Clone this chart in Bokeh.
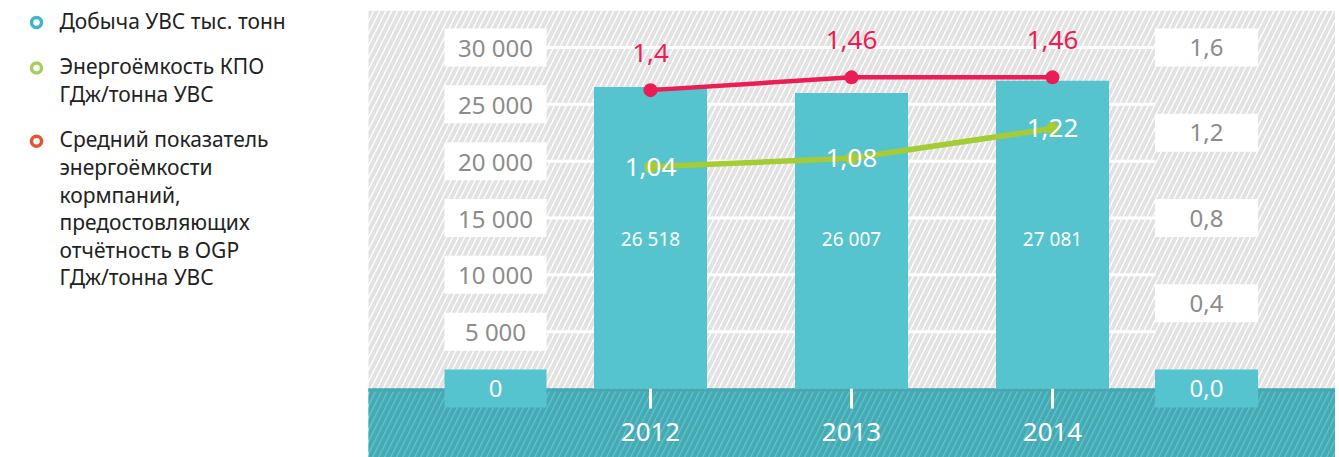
from bokeh.plotting import figure
from bokeh.models import Range1d
from bokeh.embed import file_html
from bokeh.resources import INLINE
from bokeh.core.properties import value

# ---------------- data ----------------
years = ["2012", "2013", "2014"]
production = [26518, 26007, 27081]
production_labels = ["26 518", "26 007", "27 081"]
kpo_intensity = [1.04, 1.08, 1.22]
kpo_labels = ["1,04", "1,08", "1,22"]
ogp_intensity = [1.40, 1.46, 1.46]
ogp_labels = ["1,4", "1,46", "1,46"]
left_ticks = [0, 5000, 10000, 15000, 20000, 25000, 30000]
left_tick_labels = ["0", "5 000", "10 000", "15 000", "20 000", "25 000", "30 000"]
right_ticks = [0.0, 0.4, 0.8, 1.2, 1.6]
right_tick_labels = ["0,0", "0,4", "0,8", "1,2", "1,6"]
legend_lines = [
    ["Добыча УВС тыс. тонн"],
    ["Энергоёмкость КПО", "ГДж/тонна УВС"],
    ["Средний показатель", "энергоёмкости", "кормпаний,", "предостовляющих",
     "отчётность в OGP", "ГДж/тонна УВС"],
]
legend_colors = ["#3DB6C7", "#A6CF5E", "#E4572E"]

# ---------------- styles ----------------
TEAL = "#56C4CF"
RED = "#EC1C54"
GREEN = "#A5CC35"
GRAY_TXT = "#8C8C8C"
FONT = "Noto Sans"

W, H = 1335, 457
FRAME_TOP = 10
frame_h = H - FRAME_TOP
ZERO_Y = 388.0                     # page y of value 0
zero_px = ZERO_Y - FRAME_TOP
scale_left = 30000 / 341.0         # value per pixel (left axis)
scale_right = 1.6 / 341.0          # value per pixel (right axis)
y_start = -(frame_h - zero_px) * scale_left
y_end = zero_px * scale_left
r_start = -(frame_h - zero_px) * scale_right
r_end = zero_px * scale_right

cat_px = 201.0
FIRST_CAT_X = 650.0                # page x of first category


def px_x(px):
    return 1 + (px - FIRST_CAT_X) / cat_px


def px_y(py):
    return (ZERO_Y - py) * scale_left


x_start = px_x(0)
x_end = px_x(W)
plot_left = px_x(368)
xs = [i + 1 for i in range(len(years))]
left_box_x = px_x(495)
right_box_x = px_x(1206)

p = figure(width=W, height=H, x_range=Range1d(x_start, x_end),
           y_range=Range1d(y_start, y_end), output_backend="svg",
           toolbar_location=None, min_border_left=0, min_border_right=0,
           min_border_bottom=0, min_border_top=FRAME_TOP)
p.extra_y_ranges = {"right": Range1d(r_start, r_end)}
p.axis.visible = False
p.grid.visible = False
p.outline_line_color = None
p.background_fill_color = "white"
p.border_fill_color = "white"

# hatched backgrounds
p.quad(left=[plot_left], right=[x_end], bottom=[0], top=[y_end],
       fill_color="white", line_color=None, hatch_pattern="/",
       hatch_color="#E2E2E2", hatch_scale=12, hatch_weight=4)
p.quad(left=[plot_left], right=[x_end], bottom=[y_start], top=[0],
       fill_color=TEAL, line_color=None, hatch_pattern="/",
       hatch_color="#49A9B3", hatch_scale=12, hatch_weight=4)
p.quad(left=[plot_left], right=[x_end], bottom=[-3 * scale_left], top=[0],
       fill_color="#48A7B1", line_color=None)

# grid lines
gx0 = px_x(546)
gx1 = px_x(1155)
p.segment(x0=[gx0] * (len(left_ticks) - 1), x1=[gx1] * (len(left_ticks) - 1),
          y0=left_ticks[1:], y1=left_ticks[1:], line_color="white", line_width=3)

# year ticks
p.segment(x0=xs, x1=xs, y0=[0] * 3, y1=[-20 * scale_left] * 3,
          line_color="white", line_width=3)
p.text(x=xs, y=[-43 * scale_left] * 3, text=years, text_color="white",
       text_font=value(FONT), text_font_size="26px", text_align="center",
       text_baseline="middle")

# bars
p.vbar(x=xs, top=production, bottom=0, width=113 / cat_px,
       fill_color=TEAL, line_color=None)
p.text(x=xs, y=[150 * scale_left] * 3, text=production_labels, text_color="white",
       text_font=value(FONT), text_font_size="19px", text_align="center",
       text_baseline="middle")

# left axis boxes
n_l = len(left_ticks)
box_fill_l = [TEAL if v == 0 else "white" for v in left_ticks]
box_txt_l = ["white" if v == 0 else GRAY_TXT for v in left_ticks]
p.rect(x=[left_box_x] * n_l, y=left_ticks, width=102, height=38,
       width_units="screen", height_units="screen",
       fill_color=box_fill_l, line_color=None)
p.text(x=[left_box_x] * n_l, y=left_ticks, text=left_tick_labels,
       text_color=box_txt_l, text_font=value(FONT), text_font_size="24px",
       text_align="center", text_baseline="middle")

# right axis boxes
n_r = len(right_ticks)
box_fill_r = [TEAL if v == 0 else "white" for v in right_ticks]
box_txt_r = ["white" if v == 0 else GRAY_TXT for v in right_ticks]
p.rect(x=[right_box_x] * n_r, y=right_ticks, width=103, height=38,
       width_units="screen", height_units="screen",
       fill_color=box_fill_r, line_color=None, y_range_name="right")
p.text(x=[right_box_x] * n_r, y=right_ticks, text=right_tick_labels,
       text_color=box_txt_r, text_font=value(FONT), text_font_size="24px",
       text_align="center", text_baseline="middle", y_range_name="right")

# green line (KPO)
p.line(xs, kpo_intensity, line_color=GREEN, line_width=5.5, y_range_name="right")
p.scatter(xs, kpo_intensity, size=13, fill_color=GREEN, line_color=None,
          y_range_name="right")
p.text(x=xs, y=kpo_intensity, text=kpo_labels, text_color="white",
       text_font=value(FONT), text_font_size="26px", text_align="center",
       text_baseline="middle", y_range_name="right")

# red line (OGP)
p.line(xs, ogp_intensity, line_color=RED, line_width=4.5, y_range_name="right")
p.scatter(xs, ogp_intensity, size=14, fill_color=RED, line_color=None,
          y_range_name="right")
p.text(x=xs, y=[v + 37 * scale_right for v in ogp_intensity], text=ogp_labels,
       text_color=RED, text_font=value(FONT), text_font_size="26px",
       text_align="center", text_baseline="middle", y_range_name="right")

# ---------------- legend (left part of the same canvas) ----------------
LINE_STEP, GROUP_GAP = 27.6, 18.0
marker_y = []
text_x, text_y, text_s = [], [], []
pos = 22.0  # page y of the first line's centre
for lines in legend_lines:
    marker_y.append(px_y(pos))
    for j, ln in enumerate(lines):
        text_y.append(px_y(pos + LINE_STEP * j - 2))
        text_s.append(ln)
        text_x.append(px_x(59))
    pos += LINE_STEP * len(lines) + GROUP_GAP

p.scatter(x=[px_x(36)] * len(marker_y), y=marker_y, size=10, fill_color="white",
          line_color=legend_colors, line_width=3.5)
p.text(x=text_x, y=text_y, text=text_s, text_color="#222222",
       text_font=value(FONT), text_font_size="21px", text_align="left",
       text_baseline="middle")

open("out.html", "w").write(file_html(p, INLINE))
